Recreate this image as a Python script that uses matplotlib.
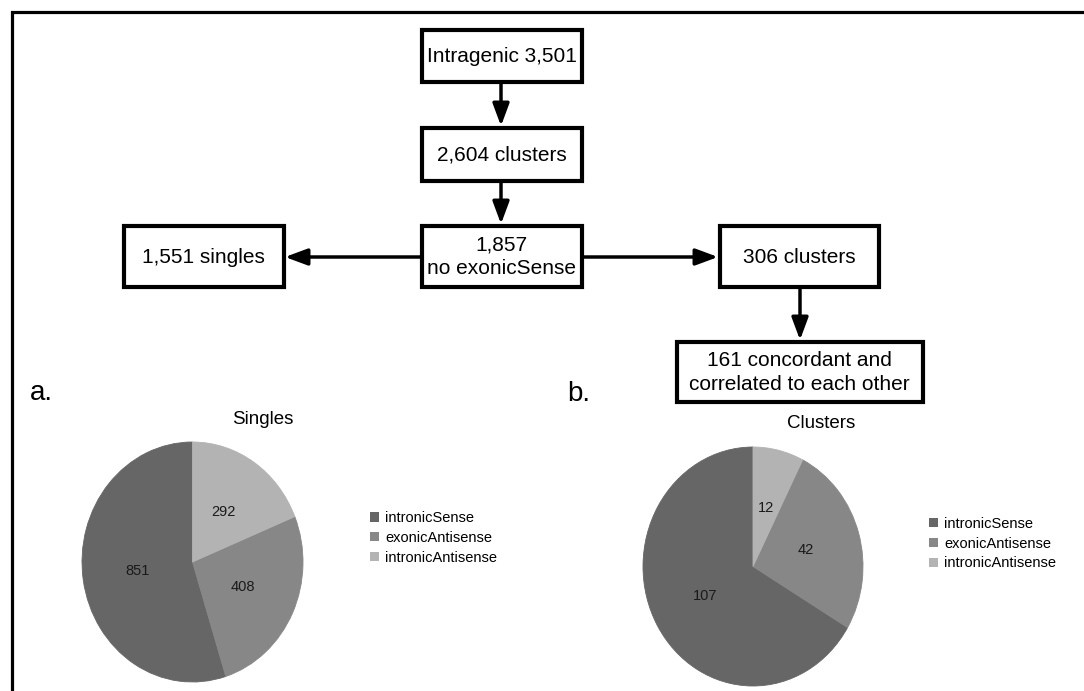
import matplotlib.pyplot as plt
from matplotlib.patches import Rectangle, Patch

plt.rcParams['font.family'] = ['Liberation Sans', 'DejaVu Sans']

# pie data
categories = ['intronicSense', 'exonicAntisense', 'intronicAntisense']
singles = [851, 408, 292]
clusters = [107, 42, 12]
colours = ['#666666', '#878787', '#b3b3b3']

# flowchart labels
flow_labels = ['Intragenic 3,501', '2,604 clusters', '1,857\nno exonicSense',
               '1,551 singles', '306 clusters',
               '161 concordant and\ncorrelated to each other']

W, H = 1084, 691
fig = plt.figure(figsize=(W / 100, H / 100), dpi=100)

# full-page axes in pixel units for the flowchart
canvas = fig.add_axes([0, 0, 1, 1])
canvas.set_xlim(0, W)
canvas.set_ylim(H, 0)
canvas.axis('off')

# frame along top and left
canvas.plot([11.5, 11.5, W + 10], [H + 10, 11.5, 11.5], color='black', lw=2.3,
            solid_joinstyle='miter', clip_on=False)

box_pos = [(420, 28, 583, 83), (420, 126, 583, 182), (420, 224, 583, 288),
           (122, 224, 285, 288), (718, 224, 880, 288), (675, 340, 924, 403)]

for label, (x0, y0, x1, y1) in zip(flow_labels, box_pos):
    canvas.add_patch(Rectangle((x0 + 1.5, y0 + 1.5), x1 - x0 - 3, y1 - y0 - 3,
                               facecolor='white', edgecolor='black', lw=3,
                               joinstyle='miter'))
    canvas.text((x0 + x1) / 2, (y0 + y1) / 2 + 1, label, ha='center', va='center',
                fontsize=15, linespacing=1.28)

arrows = [((501, 83), (501, 126)), ((501, 182), (501, 224)),
          ((420, 257), (285, 257)), ((583, 257), (718, 257)),
          ((800, 288), (800, 340))]
for start, end in arrows:
    canvas.annotate('', xy=end, xytext=start,
                    arrowprops=dict(arrowstyle='-|>,head_length=1.35,head_width=0.5',
                                    lw=2.5, color='black', shrinkA=0, shrinkB=0,
                                    mutation_scale=10))


def px_axes(x0, y0, x1, y1):
    return fig.add_axes([x0 / W, 1 - y1 / H, (x1 - x0) / W, (y1 - y0) / H])


def draw_pie(ax, values, legend_xy):
    total = sum(values)
    wedges, _, _ = ax.pie(values, colors=colours, startangle=90, counterclock=True,
                          autopct=lambda p: f'{round(p * total / 100)}', pctdistance=0.5,
                          textprops={'fontsize': 10.5, 'color': '#1a1a1a'})
    for w, c in zip(wedges, colours):
        w.set_edgecolor(c)
        w.set_linewidth(0.6)
    ax.set_aspect('auto')
    ax.set_xlim(-1, 1)
    ax.set_ylim(-1, 1)
    handles = [Patch(facecolor=c, edgecolor='none') for c in colours]
    ax.legend(handles, categories, loc='center left',
              bbox_to_anchor=(legend_xy[0] / W, 1 - legend_xy[1] / H),
              bbox_transform=fig.transFigure, frameon=False, fontsize=10.5,
              handlelength=0.6, handleheight=0.6, handletextpad=0.45,
              labelspacing=0.4, borderpad=0, borderaxespad=0)


ax_a = px_axes(82, 442, 303, 682)
draw_pie(ax_a, singles, (370, 538))
ax_b = px_axes(643, 447, 863, 686)
draw_pie(ax_b, clusters, (929, 543.5))

fig.text(263 / W, 1 - 419 / H, 'Singles', ha='center', va='center', fontsize=13.5)
fig.text(821 / W, 1 - 423 / H, 'Clusters', ha='center', va='center', fontsize=13.5)
fig.text(30 / W, 1 - 400 / H, 'a.', fontsize=20, va='baseline')
fig.text(567 / W, 1 - 401 / H, 'b.', fontsize=20, va='baseline')

fig.savefig('out.png', dpi=100, facecolor='white')
